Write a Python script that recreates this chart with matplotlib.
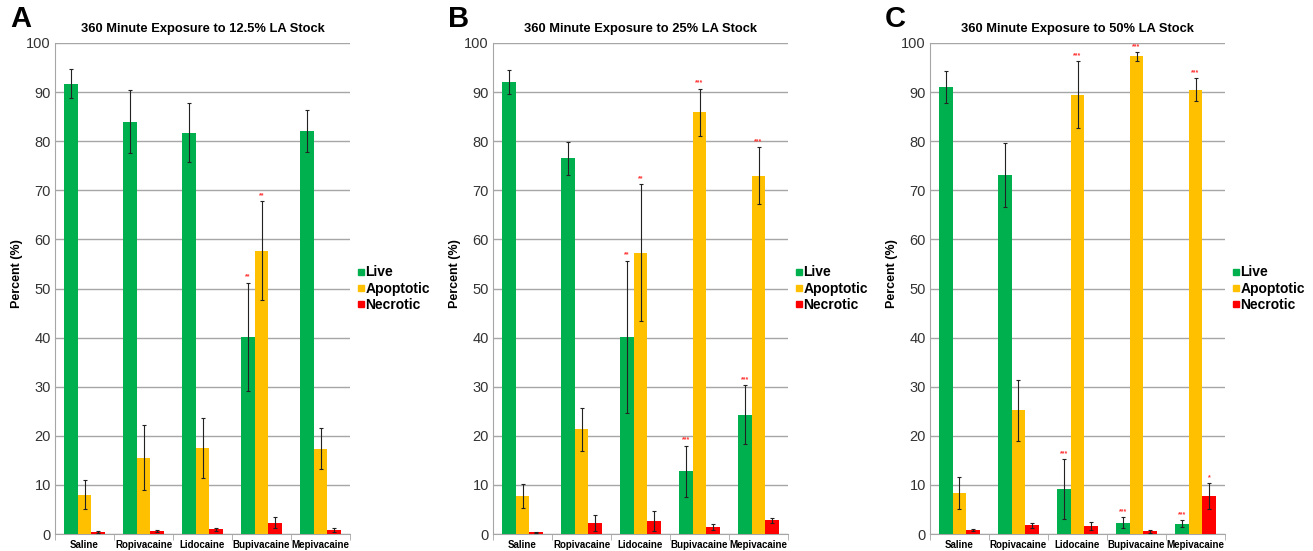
import numpy as np
import matplotlib
matplotlib.use("Agg")
import matplotlib.pyplot as plt
from matplotlib.lines import Line2D

plt.rcParams['font.family'] = ['Liberation Sans', 'DejaVu Sans']

drugs = ['Saline', 'Ropivacaine', 'Lidocaine', 'Bupivacaine', 'Mepivacaine']
series = ['Live', 'Apoptotic', 'Necrotic']
colors = ['#00B04F', '#FFC000', '#FF0000']

titles = ['360 Minute Exposure to 12.5% LA Stock',
          '360 Minute Exposure to 25% LA Stock',
          '360 Minute Exposure to 50% LA Stock']
letters = ['A', 'B', 'C']

# panel A (12.5%)
live_a = [91.7, 84.0, 81.7, 40.2, 82.0]
live_a_err = [3.0, 6.5, 6.0, 11.0, 4.3]
apop_a = [8.0, 15.5, 17.5, 57.7, 17.4]
apop_a_err = [3.0, 6.6, 6.1, 10.1, 4.2]
necr_a = [0.5, 0.7, 1.0, 2.3, 0.8]
necr_a_err = [0.2, 0.2, 0.3, 1.1, 0.4]
stars_a = [['', '', '', '**', ''], ['', '', '', '**', ''], ['', '', '', '', '']]

# panel B (25%)
live_b = [92.0, 76.5, 40.2, 12.8, 24.3]
live_b_err = [2.4, 3.4, 15.5, 5.2, 6.0]
apop_b = [7.7, 21.3, 57.3, 85.9, 73.0]
apop_b_err = [2.4, 4.3, 14.0, 4.8, 5.8]
necr_b = [0.4, 2.3, 2.6, 1.4, 2.8]
necr_b_err = [0.1, 1.6, 2.0, 0.6, 0.5]
stars_b = [['', '', '**', '***', '***'], ['', '', '**', '***', '***'], ['', '', '', '', '']]

# panel C (50%)
live_c = [91.0, 73.1, 9.1, 2.3, 2.1]
live_c_err = [3.2, 6.5, 6.1, 1.1, 0.7]
apop_c = [8.3, 25.2, 89.5, 97.3, 90.5]
apop_c_err = [3.3, 6.2, 6.8, 0.9, 2.3]
necr_c = [0.8, 1.8, 1.6, 0.6, 7.7]
necr_c_err = [0.2, 0.5, 0.8, 0.3, 2.7]
stars_c = [['', '', '***', '***', '***'], ['', '', '***', '***', '***'], ['', '', '', '', '*']]

panels = [
    ([live_a, apop_a, necr_a], [live_a_err, apop_a_err, necr_a_err], stars_a),
    ([live_b, apop_b, necr_b], [live_b_err, apop_b_err, necr_b_err], stars_b),
    ([live_c, apop_c, necr_c], [live_c_err, apop_c_err, necr_c_err], stars_c),
]

fig = plt.figure(figsize=(13.13, 5.51), dpi=100)
lefts = [55, 493, 930]
axw = 295 / 1313
bottom = 1 - 534 / 551
height = (534 - 43) / 551

x = np.arange(len(drugs))
w = 0.23

for i, (vals, errs, stars) in enumerate(panels):
    ax = fig.add_axes([lefts[i] / 1313, bottom, axw, height])
    for j in range(3):
        pos = x + (j - 1) * w
        ax.bar(pos, vals[j], width=w, color=colors[j], zorder=3, label=series[j])
        ax.errorbar(pos, vals[j], yerr=errs[j], fmt='none', ecolor='#222222',
                    elinewidth=0.8, capsize=1.5, capthick=0.8, zorder=4)
        for k in range(len(drugs)):
            if stars[j][k]:
                ax.text(pos[k], vals[j][k] + errs[j][k] + 0.4, stars[j][k],
                        color='#FF3030', fontsize=5, ha='center', va='bottom',
                        fontweight='bold', zorder=5)
    ax.set_xlim(-0.5, len(drugs) - 0.5)
    ax.set_ylim(0, 100)
    ax.set_yticks(np.arange(0, 101, 10))
    ax.yaxis.grid(True, color='#A6A6A6', linewidth=1.0, zorder=0)
    ax.set_axisbelow(True)
    ax.set_xticks(x)
    ax.set_xticklabels(drugs, fontsize=7, fontweight='bold')
    ax.set_xticks(np.arange(-0.5, len(drugs)), minor=True)
    ax.tick_params(axis='x', which='major', length=0, pad=4)
    ax.tick_params(axis='x', which='minor', length=4, color='#A6A6A6')
    ax.tick_params(axis='y', length=0, labelsize=10.5, labelcolor='#333333', pad=3)
    for s in ['top', 'right']:
        ax.spines[s].set_visible(False)
    ax.spines['left'].set_color('#A6A6A6')
    ax.spines['bottom'].set_color('#A6A6A6')
    ax.set_ylabel('Percent (%)', fontsize=9, fontweight='bold')
    ax.yaxis.set_label_coords(-0.108, 0.53)
    ax.set_title(titles[i], fontsize=9.3, fontweight='bold', pad=8)
    fig.text((lefts[i] - 45) / 1313, 1 - 5 / 551, letters[i], fontsize=21,
             fontweight='bold', ha='left', va='top')
    handles = [Line2D([0], [0], marker='s', linestyle='none', markersize=4,
                      markerfacecolor=colors[j], markeredgecolor=colors[j])
               for j in range(3)]
    ax.legend(handles, series, loc='center left', bbox_to_anchor=(1.01, 0.5),
              frameon=False, prop={'weight': 'bold', 'size': 10},
              handlelength=0.4, handletextpad=0.1, labelspacing=0.15,
              borderaxespad=0.0)

fig.savefig('out.png', dpi=100)
